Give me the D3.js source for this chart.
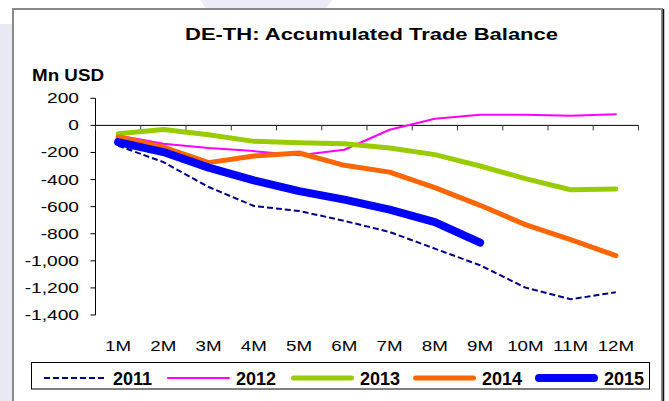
<!DOCTYPE html>
<html>
<head>
<meta charset="utf-8">
<script src="https://cdn.jsdelivr.net/npm/d3@7"></script>
<style>
  html, body { margin: 0; padding: 0; background: #ffffff; }
  svg { display: block; font-family: "Liberation Sans", Arial, sans-serif; }
</style>
</head>
<body>
<svg id="chart" width="669" height="401"></svg>
<script>
// Months on the category axis
const months = ["1M", "2M", "3M", "4M", "5M", "6M", "7M", "8M", "9M", "10M", "11M", "12M"];

// Accumulated trade balance, Mn USD, by year
const s2011 = [-150, -271, -455, -595, -632, -705, -787, -910, -1033, -1198, -1284, -1232];
const s2012 = [-75, -135, -167, -190, -221, -180, -32, 49, 79, 79, 72, 83];
const s2013 = [-61, -30, -69, -118, -128, -135, -167, -216, -300, -393, -475, -470];
const s2014 = [-86, -160, -275, -226, -204, -295, -345, -460, -590, -733, -844, -962];
const s2015 = [-123, -197, -312, -406, -485, -548, -622, -714, -866];

const yTicks = [200, 0, -200, -400, -600, -800, -1000, -1200, -1400];
const yTickLabels = ["200", "0", "-200", "-400", "-600", "-800", "-1,000", "-1,200", "-1,400"];

const seriesNames = ["2011", "2012", "2013", "2014", "2015"];
const seriesValues = [s2011, s2012, s2013, s2014, s2015];

const styles = {
  "2011": { color: "#000080", width: 2, dash: "6,3" },
  "2012": { color: "#ff00ff", width: 2, dash: null },
  "2013": { color: "#99cc00", width: 5, dash: null },
  "2014": { color: "#ff6600", width: 5, dash: null },
  "2015": { color: "#0000ff", width: 8, dash: null }
};

(function draw() {
  const svg = d3.select("#chart");

  // Page background and faint decoration outside the frame
  svg.append("rect").attr("x", 0).attr("y", 0).attr("width", 669).attr("height", 401).attr("fill", "#ffffff");
  svg.append("rect").attr("x", 0).attr("y", 24).attr("width", 13).attr("height", 377).attr("fill", "#e9e9f4");
  svg.append("polygon").attr("points", "200,0 332,0 326,9 206,9").attr("fill", "#ececf6");

  // Chart frame
  svg.append("rect")
    .attr("x", 13).attr("y", 9).attr("width", 649).attr("height", 400)
    .attr("fill", "#ffffff").attr("stroke", "#8a8a8a").attr("stroke-width", 2);
  svg.append("line").attr("x1", 663.5).attr("x2", 663.5).attr("y1", 9).attr("y2", 401)
    .attr("stroke", "#111111").attr("stroke-width", 1.5);

  // Scales
  const plotLeft = 95.5, plotRight = 638.5, plotTop = 98.3, plotBottom = 315;
  const x = d3.scaleBand().domain(months).range([plotLeft, plotRight]).paddingInner(0).paddingOuter(0);
  const y = d3.scaleLinear().domain([-1400, 200]).range([plotBottom, plotTop]);
  const cx = d => x(d) + x.bandwidth() / 2;

  // Horizontally stretched text helper
  function label(g, text, px, py, opts) {
    return g.append("text")
      .attr("transform", `translate(${px},${py}) scale(${opts.sx || 1},1)`)
      .attr("text-anchor", opts.anchor || "start")
      .attr("font-size", opts.size)
      .attr("font-weight", opts.weight || "normal")
      .attr("fill", "#000")
      .text(text);
  }

  // Title
  svg.append("text")
    .attr("x", 185).attr("y", 40)
    .attr("font-size", 16).attr("font-weight", "bold")
    .attr("textLength", 373).attr("lengthAdjust", "spacingAndGlyphs")
    .text("DE-TH: Accumulated Trade Balance");

  // Unit label
  svg.append("text")
    .attr("x", 32).attr("y", 81)
    .attr("font-size", 16).attr("font-weight", "bold")
    .attr("textLength", 72).attr("lengthAdjust", "spacingAndGlyphs")
    .text("Mn USD");

  // Y axis
  const yAxis = svg.append("g");
  yAxis.append("line")
    .attr("x1", plotLeft).attr("x2", plotLeft).attr("y1", y(200)).attr("y2", y(-1400))
    .attr("stroke", "#000").attr("stroke-width", 1);
  yTicks.forEach((v, i) => {
    yAxis.append("line")
      .attr("x1", plotLeft - 5).attr("x2", plotLeft).attr("y1", y(v)).attr("y2", y(v))
      .attr("stroke", "#000").attr("stroke-width", 1);
    label(yAxis, yTickLabels[i], 79, y(v) + 5, { size: 14, sx: 1.37, anchor: "end" });
  });

  // X axis along zero with ticks at category boundaries
  const xAxis = svg.append("g");
  xAxis.append("line")
    .attr("x1", plotLeft).attr("x2", plotRight).attr("y1", y(0)).attr("y2", y(0))
    .attr("stroke", "#000").attr("stroke-width", 1);
  const edges = months.map(m => x(m)).concat([x.range()[1]]);
  edges.forEach(e => {
    xAxis.append("line")
      .attr("x1", e).attr("x2", e).attr("y1", y(0)).attr("y2", y(0) + 5)
      .attr("stroke", "#333").attr("stroke-width", 1);
  });
  months.forEach(m => {
    label(xAxis, m, cx(m), 351, { size: 15, sx: 1.25, anchor: "middle" });
  });

  // Lines
  const line = d3.line()
    .x((d, i) => cx(months[i]))
    .y(d => y(d));

  const plot = svg.append("g");
  seriesNames.forEach((name, k) => {
    const st = styles[name];
    plot.append("path")
      .datum(seriesValues[k])
      .attr("d", line)
      .attr("fill", "none")
      .attr("stroke", st.color)
      .attr("stroke-width", st.width)
      .attr("stroke-linejoin", "round")
      .attr("stroke-linecap", st.dash ? "butt" : "round")
      .attr("stroke-dasharray", st.dash);
  });

  // Legend
  const legend = svg.append("g");
  legend.append("rect")
    .attr("x", 31.5).attr("y", 362.5).attr("width", 618).attr("height", 26.5)
    .attr("fill", "#ffffff").attr("stroke", "#000").attr("stroke-width", 1);
  const legendX = [44, 167, 291, 413, 535];
  seriesNames.forEach((name, k) => {
    const st = styles[name];
    const lx = legendX[k];
    legend.append("line")
      .attr("x1", lx + (st.dash ? 0 : st.width / 2)).attr("x2", lx + 63 - (st.dash ? 0 : st.width / 2))
      .attr("y1", 378).attr("y2", 378)
      .attr("stroke", st.color)
      .attr("stroke-width", st.width)
      .attr("stroke-linecap", st.dash ? "butt" : "round")
      .attr("stroke-dasharray", st.dash);
    legend.append("text")
      .attr("x", lx + 69).attr("y", 385)
      .attr("font-size", 18).attr("font-weight", "bold")
      .text(name);
  });
})();
</script>
</body>
</html>
